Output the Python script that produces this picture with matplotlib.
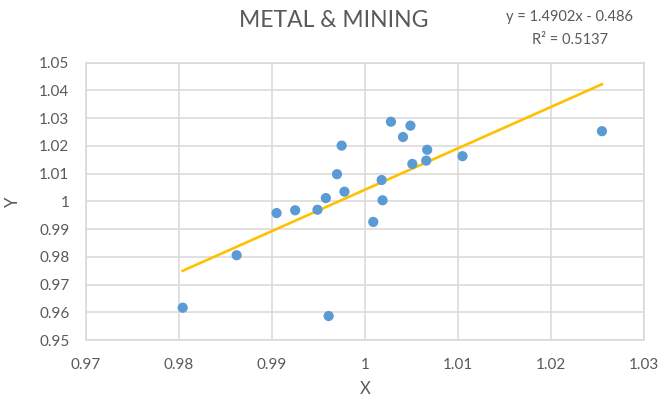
import matplotlib
matplotlib.use('Agg')
import matplotlib.pyplot as plt
import numpy as np

plt.rcParams['font.family'] = ['Lato', 'DejaVu Sans']

TITLE = 'METAL & MINING'
SLOPE = 1.4902
INTERCEPT = -0.486
R2 = 0.5137

x_vals = [0.9804, 0.9862, 0.9905, 0.9925, 0.9949, 0.9958, 0.9961, 0.9970,
          0.9975, 0.9978, 1.0009, 1.0018, 1.0019, 1.0028, 1.0041, 1.0049,
          1.0051, 1.0066, 1.0067, 1.0105, 1.0255]
y_vals = [0.9617, 0.9806, 0.9958, 0.9968, 0.9970, 1.0012, 0.9587, 1.0098,
          1.0201, 1.0035, 0.9926, 1.0077, 1.0004, 1.0287, 1.0232, 1.0273,
          1.0135, 1.0147, 1.0186, 1.0163, 1.0253]

x_ticks = [0.97, 0.98, 0.99, 1.00, 1.01, 1.02, 1.03]
x_tick_labels = ['0.97', '0.98', '0.99', '1', '1.01', '1.02', '1.03']
y_ticks = [0.95, 0.96, 0.97, 0.98, 0.99, 1.00, 1.01, 1.02, 1.03, 1.04, 1.05]
y_tick_labels = ['0.95', '0.96', '0.97', '0.98', '0.99', '1', '1.01', '1.02', '1.03', '1.04', '1.05']

GRID = '#d9d9d9'
TEXT = '#595959'

fig = plt.figure(figsize=(6.72, 4.04), dpi=100)
ax = fig.add_axes([0.128, 0.158, 0.83, 0.687])

# trendline over data range
tx = np.array([min(x_vals), max(x_vals)])
ax.plot(tx, SLOPE * tx + INTERCEPT, color='#ffc000', lw=1.9, zorder=2)
ax.scatter(x_vals, y_vals, s=54, color='#5b9bd5', edgecolors='none', zorder=3)

ax.set_xlim(0.97, 1.03)
ax.set_ylim(0.95, 1.05)
ax.set_xticks(x_ticks)
ax.set_xticklabels(x_tick_labels)
ax.set_yticks(y_ticks)
ax.set_yticklabels(y_tick_labels)
ax.grid(True, color=GRID, lw=1.1)
ax.set_axisbelow(True)
ax.tick_params(length=0, labelsize=11, labelcolor=TEXT)
ax.tick_params(axis='x', pad=13)
ax.tick_params(axis='y', pad=12)
for s in ax.spines.values():
    s.set_color(GRID)
    s.set_linewidth(1.1)

ax.set_xlabel('X', fontsize=12, color=TEXT, labelpad=6)
ax.set_ylabel('Y', fontsize=12, color=TEXT, labelpad=13)

fig.text(0.496, 0.95, TITLE, fontsize=16.5, color=TEXT, ha='center', va='center')
fig.text(0.848, 0.958, 'y = %.4fx - %.3f' % (SLOPE, -INTERCEPT), fontsize=10.5,
         color=TEXT, ha='center', va='center')
fig.text(0.848, 0.901, 'R² = %.4f' % R2, fontsize=10.5, color=TEXT,
         ha='center', va='center')

fig.savefig('out.png', dpi=100, facecolor='white')
